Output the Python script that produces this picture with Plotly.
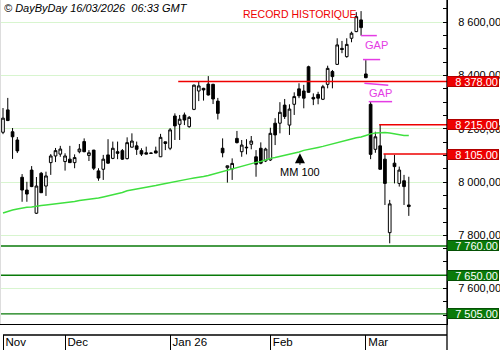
import plotly.graph_objects as go

# Daily bars, mid-November 2025 to 13 March 2026
opens = [8187, 8271, 8189, 8158, 8018, 7970, 8045, 7883, 8033, 7985,
         8073, 8098, 8105, 8077, 8086, 8073, 8114, 8152, 8100, 8120,
         8042, 8048, 8102, 8089, 8114, 8118, 8088, 8131, 8136, 8118,
         8110, 8109, 8117, 8095, 8151, 8127, 8248, 8217, 8252, 8208,
         8273, 8342, 8352, 8368, 8367, 8304, 8127, 8054, 8049, 8164,
         8114, 8131, 8142, 8095, 8127, 8079, 8083, 8221, 8221, 8289,
         8214, 8292, 8350, 8342, 8433, 8318, 8329, 8311, 8367, 8415,
         8442, 8502, 8471, 8540, 8565, 8609, 8406, 8292, 8123, 8136,
         8086, 7810, 8071, 7995, 8005, 7914]
highs = [8278, 8316, 8203, 8169, 8030, 8001, 8060, 8019, 8038, 8039,
         8105, 8128, 8136, 8108, 8136, 8104, 8143, 8164, 8120, 8121,
         8052, 8102, 8161, 8152, 8152, 8124, 8168, 8183, 8152, 8127,
         8133, 8111, 8133, 8181, 8152, 8203, 8258, 8252, 8261, 8248,
         8366, 8377, 8354, 8398, 8369, 8316, 8164, 8062, 8089, 8192,
         8158, 8161, 8173, 8120, 8149, 8129, 8204, 8240, 8300, 8312,
         8292, 8337, 8371, 8365, 8437, 8333, 8339, 8365, 8437, 8421,
         8540, 8530, 8540, 8565, 8638, 8642, 8458, 8302, 8189, 8216,
         8105, 7933, 8102, 8058, 8027, 8020]
lows = [8180, 8229, 8087, 8109, 7926, 7926, 7981, 7880, 7959, 7948,
        8027, 8075, 8095, 8043, 8072, 8052, 8108, 8112, 8079, 8045,
        8005, 8008, 8069, 8086, 8086, 8083, 8085, 8130, 8102, 8098,
        8104, 8106, 8108, 8094, 8120, 8120, 8158, 8158, 8214, 8204,
        8270, 8304, 8306, 8325, 8293, 8235, 8093, 7998, 8008, 8145,
        8095, 8104, 8123, 8020, 8067, 8075, 8079, 8139, 8183, 8237,
        8177, 8252, 8315, 8277, 8336, 8289, 8292, 8308, 8352, 8352,
        8440, 8484, 8467, 8525, 8563, 8550, 8390, 8086, 8110, 8047,
        7914, 7770, 7995, 7983, 7914, 7873]
closes = [8240, 8231, 8170, 8117, 7970, 7955, 7983, 7985, 7960, 8023,
          8098, 8118, 8124, 8098, 8073, 8092, 8124, 8114, 8110, 8052,
          8015, 8086, 8071, 8127, 8108, 8086, 8148, 8154, 8123, 8105,
          8105, 8108, 8109, 8168, 8145, 8196, 8211, 8236, 8233, 8243,
          8364, 8361, 8346, 8327, 8312, 8258, 8110, 8061, 8070, 8148,
          8139, 8129, 8154, 8067, 8071, 8124, 8183, 8177, 8262, 8246,
          8274, 8321, 8324, 8315, 8337, 8312, 8315, 8358, 8427, 8396,
          8515, 8498, 8517, 8559, 8621, 8580, 8392, 8104, 8170, 8048,
          7995, 7918, 8058, 8045, 7983, 7908]
# 100-day moving average
mm100 = [7884, 7890, 7895, 7899, 7903, 7905, 7906, 7910, 7912, 7914,
         7916, 7918, 7920, 7921, 7925, 7927, 7931, 7933, 7936, 7938,
         7940, 7944, 7948, 7952, 7955, 7961, 7967, 7970, 7974, 7978,
         7980, 7983, 7987, 7991, 7995, 7998, 8002, 8006, 8010, 8012,
         8015, 8017, 8021, 8025, 8030, 8034, 8040, 8045, 8051, 8055,
         8060, 8066, 8070, 8074, 8077, 8083, 8089, 8092, 8096, 8100,
         8104, 8109, 8113, 8119, 8122, 8126, 8130, 8134, 8139, 8143,
         8149, 8152, 8158, 8162, 8166, 8169, 8175, 8181, 8184, 8186,
         8186, 8184, 8181, 8177, 8175, 8175]
month_labels = ["Nov", "Dec", "Jan 26", "Feb", "Mar"]
month_first_bar = [0, 13, 35, 56, 76]
resistances = [8378, 8215, 8105]
supports = [7760, 7650, 7505]

bars = list(range(len(opens)))
FONT = "Liberation Sans, Arial, sans-serif"
X_RANGE = [-0.63, 93.0]
Y_RANGE = [7467, 8683.7]
RED = "#ee0000"
GREEN = "#0a7a0a"
MAGENTA = "#e43ce4"


def fr(v):
    return f"{v:,.2f}".replace(",", " ").replace(".", ",")


fig = go.Figure()
fig.add_trace(go.Scatter(x=bars, y=mm100, mode="lines",
                         line=dict(color="#3fe03f", width=1.5),
                         hoverinfo="skip"))
fig.add_trace(go.Candlestick(
    x=bars, open=opens, high=highs, low=lows, close=closes,
    increasing=dict(line=dict(color="black", width=1), fillcolor="white"),
    decreasing=dict(line=dict(color="black", width=1), fillcolor="black"),
    whiskerwidth=0))
# carrier for the month axis
fig.add_trace(go.Scatter(x=month_first_bar, y=[None] * len(month_first_bar),
                         xaxis="x2", yaxis="y", hoverinfo="skip"))

shapes = []
annotations = []

# key levels with their price tags on the right
res_start = [36.7, 78.8, 79.7]
for lvl, x0 in zip(resistances, res_start):
    shapes.append(dict(type="line", xref="x", yref="y", x0=x0, x1=X_RANGE[1],
                       y0=lvl, y1=lvl, line=dict(color=RED, width=1.5)))
    annotations.append(dict(xref="paper", yref="y", x=1, y=lvl, xanchor="left",
                            yanchor="middle", text=fr(lvl), showarrow=False,
                            bgcolor=RED, bordercolor="#b00000", borderwidth=1,
                            width=50, height=9, align="right", borderpad=0,
                            font=dict(family=FONT, size=11, color="white")))
for lvl in supports:
    shapes.append(dict(type="line", xref="x", yref="y", x0=X_RANGE[0], x1=X_RANGE[1],
                       y0=lvl, y1=lvl, line=dict(color=GREEN, width=1.3)))
    annotations.append(dict(xref="paper", yref="y", x=1, y=lvl, xanchor="left",
                            yanchor="middle", text=fr(lvl), showarrow=False,
                            bgcolor=GREEN, bordercolor="#055005", borderwidth=1,
                            width=50, height=9, align="right", borderpad=0,
                            font=dict(family=FONT, size=11, color="white")))

# gap markers
gap_marks = [(75.0, 78.3, 8550, 8550), (75.4, 79.0, 8460, 8460),
             (75.7, 80.7, 8371, 8364), (76.6, 81.5, 8302, 8302)]
for x0, x1, y0, y1 in gap_marks:
    shapes.append(dict(type="line", xref="x", yref="y", x0=x0, x1=x1, y0=y0, y1=y1,
                       line=dict(color=MAGENTA, width=1.5)))
for gx, gy in [(78.2, 8514), (79.0, 8333)]:
    annotations.append(dict(xref="x", yref="y", x=gx, y=gy, text="GAP",
                            showarrow=False,
                            font=dict(family=FONT, size=11, color=MAGENTA)))

annotations.append(dict(xref="x", yref="y", x=62.3, y=8632, text="RECORD HISTORIQUE",
                        showarrow=False, font=dict(family=FONT, size=10.5, color=RED)))
annotations.append(dict(xref="x", yref="y", x=62.2, y=8108, text="MM 100",
                        showarrow=True, arrowhead=2, arrowsize=2, arrowwidth=1,
                        arrowcolor="black", ax=0, ay=19,
                        font=dict(family=FONT, size=11, color="black")))
annotations.append(dict(xref="paper", yref="paper", x=0.004, y=1.0, xanchor="left",
                        yanchor="top", showarrow=False,
                        text="<i>© DayByDay 16/03/2026&nbsp; 06:33 GMT</i>",
                        font=dict(family=FONT, size=11, color="black")))

# frame pieces
shapes.append(dict(type="line", xref="paper", yref="paper", x0=1, x1=1, y0=0, y1=1,
                   line=dict(color="black", width=1.3)))
shapes.append(dict(type="line", xref="x", yref="paper", x0=0, x1=X_RANGE[1],
                   y0=15 / 350, y1=15 / 350, line=dict(color="black", width=1.3)))
shapes.append(dict(type="line", xref="paper", yref="paper", x0=0, x1=0, y0=26 / 350, y1=1,
                   line=dict(color="#dddddd", width=2)))

fig.update_layout(
    width=500, height=350,
    margin=dict(l=0, r=53, t=0, b=0),
    paper_bgcolor="white", plot_bgcolor="white",
    showlegend=False,
    separators=", ",
    boxgap=0.2,
    font=dict(family=FONT, size=11, color="black"),
    xaxis=dict(domain=[0, 1], range=X_RANGE, showgrid=False, zeroline=False,
               showticklabels=False, ticks="", showline=True, linecolor="black",
               linewidth=1.3, rangeslider=dict(visible=False), fixedrange=True),
    xaxis2=dict(overlaying="x", anchor="free", position=0, range=X_RANGE,
                tickmode="array", tickvals=month_first_bar, ticktext=month_labels,
                ticks="inside", ticklen=15, tickwidth=1, tickcolor="black",
                ticklabelposition="inside right", ticklabelstandoff=-4,
                ticklabelshift=2, showline=False, showgrid=False,
                zeroline=False, tickfont=dict(family=FONT, size=11.5, color="black")),
    yaxis=dict(domain=[26 / 350, 1], side="right", range=Y_RANGE,
               tickmode="linear", tick0=0, dtick=200, tickformat=",.2f",
               showgrid=True, gridcolor="#d8f5cf", gridwidth=1,
               ticks="inside", ticklen=4, tickcolor="black",
               showline=True, linecolor="black", zeroline=False,
               ticklabelstandoff=8,
               tickfont=dict(family=FONT, size=11, color="black"),
               minor=dict(dtick=50, tick0=0, ticks="inside", ticklen=4,
                          tickcolor="black", showgrid=False)),
    shapes=shapes, annotations=annotations,
)

fig.write_html("out.html")
